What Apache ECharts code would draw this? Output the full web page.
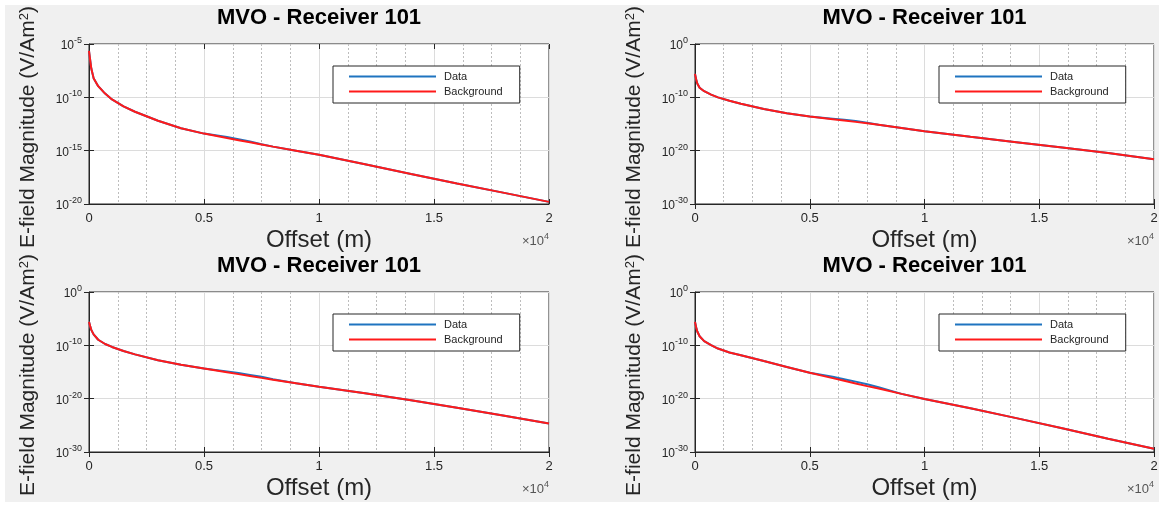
<!DOCTYPE html>
<html>
<head>
<meta charset="utf-8">
<script src="https://cdn.jsdelivr.net/npm/echarts@6/dist/echarts.min.js"></script>
<style>
  html, body { margin: 0; padding: 0; background: #ffffff; }
  #frame { position: absolute; left: 5px; top: 5px; width: 1154px; height: 497px; background: #f0f0f0; }
  #chart { position: absolute; left: 0; top: 0; width: 1159px; height: 506px; }
</style>
</head>
<body>
<div id="frame"></div>
<div id="chart"></div>
<script>
// Source-receiver offsets (m), shared by every panel
const offsets = [0, 50, 100, 200, 400, 700, 1000, 1500, 2000, 3000, 4000, 5000,
  6000, 6500, 7000, 7500, 8000, 9000, 10000, 12000, 14000, 16000, 18000, 20000];

// E-field magnitude (V/Am^2), panel 1 (upper left)
const bgUpperLeft = [2.24e-6, 3.16e-7, 5.01e-8, 6.31e-9, 1.12e-9, 2.24e-10, 6.31e-11, 1.41e-11,
  4.47e-12, 6.31e-13, 1.26e-13, 3.98e-14, 1.51e-14, 9.55e-15, 6.03e-15, 3.80e-15, 2.40e-15,
  1.0e-15, 4.17e-16, 5.37e-17, 6.61e-18, 8.51e-19, 1.17e-19, 1.58e-20];
const dataUpperLeft = [2.24e-6, 3.16e-7, 5.01e-8, 6.31e-9, 1.12e-9, 2.24e-10, 6.31e-11, 1.41e-11,
  4.47e-12, 6.31e-13, 1.26e-13, 3.98e-14, 1.91e-14, 1.20e-14, 7.24e-15, 3.98e-15, 2.40e-15,
  1.0e-15, 4.17e-16, 5.37e-17, 6.61e-18, 8.51e-19, 1.17e-19, 1.58e-20];

// Panel 2 (upper right)
const bgUpperRight = [2.51e-6, 2.51e-7, 3.98e-8, 6.31e-9, 1.41e-9, 3.16e-10, 1.0e-10, 2.24e-11,
  6.31e-12, 6.31e-13, 1.0e-13, 2.51e-14, 7.94e-15, 4.47e-15, 2.51e-15, 1.41e-15, 7.08e-16,
  1.78e-16, 4.47e-17, 3.98e-18, 3.98e-19, 3.98e-20, 3.55e-21, 2.51e-22];
const dataUpperRight = [2.51e-6, 2.51e-7, 3.98e-8, 6.31e-9, 1.41e-9, 3.16e-10, 1.0e-10, 2.24e-11,
  6.31e-12, 6.31e-13, 1.0e-13, 2.51e-14, 1.0e-14, 6.31e-15, 3.55e-15, 1.78e-15, 7.08e-16,
  1.78e-16, 4.47e-17, 3.98e-18, 3.98e-19, 3.98e-20, 3.55e-21, 2.51e-22];

// Panel 3 (lower left)
const bgLowerLeft = [2.51e-6, 3.98e-7, 7.94e-8, 1.12e-8, 1.12e-9, 1.78e-10, 5.01e-11, 8.91e-12,
  2.0e-12, 1.58e-13, 2.24e-14, 4.47e-15, 8.91e-16, 3.98e-16, 1.78e-16, 7.94e-17, 3.55e-17,
  7.94e-18, 1.78e-18, 1.0e-19, 5.01e-21, 2.0e-22, 7.08e-24, 2.24e-25];
const dataLowerLeft = [2.51e-6, 3.98e-7, 7.94e-8, 1.12e-8, 1.12e-9, 1.78e-10, 5.01e-11, 8.91e-12,
  2.0e-12, 1.58e-13, 2.24e-14, 4.47e-15, 1.26e-15, 6.31e-16, 2.82e-16, 1.26e-16, 4.47e-17,
  7.94e-18, 1.78e-18, 1.0e-19, 5.01e-21, 2.0e-22, 7.08e-24, 2.24e-25];

// Panel 4 (lower right)
const bgLowerRight = [2.51e-6, 2.51e-7, 3.98e-8, 5.01e-9, 6.31e-10, 1.12e-10, 2.51e-11, 4.47e-12,
  1.41e-12, 1.12e-13, 8.91e-15, 7.08e-16, 7.08e-17, 2.24e-17, 7.08e-18, 2.24e-18, 7.94e-19,
  7.94e-20, 8.91e-21, 1.58e-22, 2.24e-24, 2.82e-26, 3.16e-28, 3.98e-30];
const dataLowerRight = [2.51e-6, 2.51e-7, 3.98e-8, 5.01e-9, 6.31e-10, 1.12e-10, 2.51e-11, 4.47e-12,
  1.41e-12, 1.12e-13, 8.91e-15, 7.08e-16, 1.26e-16, 4.47e-17, 1.58e-17, 5.01e-18, 1.41e-18,
  7.94e-20, 8.91e-21, 1.58e-22, 2.24e-24, 2.82e-26, 3.16e-28, 3.98e-30];

// Axis ticks
const xTicks = [0, 5000, 10000, 15000, 20000];
const yTicksUpperLeft = [1e-20, 1e-15, 1e-10, 1e-5];
const yTicksOthers = [1e-30, 1e-20, 1e-10, 1];

const titleText = 'MVO - Receiver 101';
const xName = 'Offset (m)';
const legendNames = ['Data', 'Background'];

const FONT = '"Liberation Sans", Arial, Helvetica, sans-serif';
const INK = '#262626';
const BLUE = '#1f74c0';
const RED = '#ff1a1a';

const panels = [
  { bg: bgUpperLeft,  data: dataUpperLeft,  ticks: yTicksUpperLeft, box: { left: 89,  top: 44,  width: 460, height: 160 } },
  { bg: bgUpperRight, data: dataUpperRight, ticks: yTicksOthers,    box: { left: 695, top: 44,  width: 459, height: 160 } },
  { bg: bgLowerLeft,  data: dataLowerLeft,  ticks: yTicksOthers,    box: { left: 89,  top: 292, width: 460, height: 160 } },
  { bg: bgLowerRight, data: dataLowerRight, ticks: yTicksOthers,    box: { left: 695, top: 292, width: 459, height: 160 } }
];

const pair = arr => offsets.map((x, i) => [x, arr[i]]);

const powerLabel = v => {
  if (!(v > 0)) return '';
  const e = Math.round(Math.log10(v));
  return '{m|10}{e|' + e + '}';
};

const grid = [], xAxis = [], yAxis = [], series = [], legend = [], graphic = [];

panels.forEach((p, i) => {
  const b = p.box;
  const t = p.ticks;
  grid.push({
    left: b.left, top: b.top, width: b.width, height: b.height,
    containLabel: false, outerBoundsMode: 'none',
    show: true, backgroundColor: '#ffffff', borderColor: INK, borderWidth: 1
  });

  // bottom axis with labels and grid lines
  xAxis.push({
    type: 'value', gridIndex: i, min: xTicks[0], max: xTicks[xTicks.length - 1],
    interval: xTicks[1] - xTicks[0],
    name: xName, nameLocation: 'middle', nameGap: 24,
    nameTextStyle: { fontFamily: FONT, fontSize: 24, color: INK },
    axisLine: { show: true, lineStyle: { color: INK, width: 1 } },
    axisTick: { show: true, inside: true, length: 5, lineStyle: { color: INK } },
    axisLabel: { fontFamily: FONT, fontSize: 13, color: INK, margin: 8, formatter: v => String(v / 10000) },
    splitLine: { show: true, lineStyle: { color: '#dcdcdc', width: 1 } },
    minorTick: { show: false, splitNumber: 4 },
    minorSplitLine: { show: true, lineStyle: { color: '#bdbdbd', type: [2, 2], width: 1 } }
  });
  // top edge ticks
  xAxis.push({
    type: 'value', gridIndex: i, position: 'top', min: xTicks[0], max: xTicks[xTicks.length - 1],
    interval: xTicks[1] - xTicks[0],
    axisLine: { show: false }, axisLabel: { show: false }, splitLine: { show: false },
    axisTick: { show: true, inside: true, length: 5, lineStyle: { color: INK } }
  });

  const yCommon = { type: 'log', gridIndex: i, logBase: 10, min: t[0], max: t[t.length - 1] };
  yAxis.push(Object.assign({}, yCommon, {
    name: 'E-field Magnitude (V/Am{s|2})', nameLocation: 'middle', nameGap: 50, nameRotate: 90,
    nameMoveOverlap: false,
    nameTextStyle: {
      fontFamily: FONT, fontSize: 21, color: INK, padding: [0, 6, 0, 0],
      rich: { s: { fontFamily: FONT, fontSize: 13, color: INK, verticalAlign: 'top', lineHeight: 12 } }
    },
    axisLine: { show: true, lineStyle: { color: INK, width: 1 } },
    axisTick: { show: true, inside: true, length: 5, lineStyle: { color: INK }, customValues: t },
    axisLabel: {
      margin: 7, formatter: powerLabel, customValues: t,
      rich: {
        m: { fontFamily: FONT, fontSize: 12, color: INK, lineHeight: 16, verticalAlign: 'bottom' },
        e: { fontFamily: FONT, fontSize: 9, color: INK, lineHeight: 10, verticalAlign: 'top' }
      }
    },
    splitLine: { show: true, lineStyle: { color: '#dcdcdc', width: 1 } }
  }));
  yAxis.push(Object.assign({}, yCommon, {
    position: 'right',
    axisLine: { show: false }, axisLabel: { show: false }, splitLine: { show: false },
    axisTick: { show: true, inside: true, length: 5, lineStyle: { color: INK }, customValues: t }
  }));

  series.push({
    name: legendNames[0], type: 'line', xAxisIndex: 2 * i, yAxisIndex: 2 * i,
    data: pair(p.data), symbol: 'none', smooth: false,
    lineStyle: { color: BLUE, width: 2 }, itemStyle: { color: BLUE }, z: 3
  });
  series.push({
    name: legendNames[1], type: 'line', xAxisIndex: 2 * i, yAxisIndex: 2 * i,
    data: pair(p.bg), symbol: 'none', smooth: false,
    lineStyle: { color: RED, width: 2 }, itemStyle: { color: RED }, z: 4
  });

  legend.push({
    data: legendNames, orient: 'vertical', left: b.left + 244, top: b.top + 22,
    icon: 'rect', itemWidth: 87, itemHeight: 2, itemGap: 4, selectedMode: false,
    padding: [5, 17, 6, 16],
    backgroundColor: '#ffffff', borderColor: INK, borderWidth: 1, borderRadius: 0,
    textStyle: { fontFamily: FONT, fontSize: 11, color: INK, padding: [0, 0, 0, 3] }
  });

  // panel title
  graphic.push({
    type: 'text', x: b.left + b.width / 2, y: b.top - 26, silent: true,
    style: {
      text: titleText, fontFamily: FONT, fontSize: 22, fontWeight: 'bold', fill: '#000000',
      align: 'center', verticalAlign: 'middle'
    }
  });
  // axis multiplier
  graphic.push({
    type: 'text', x: b.left + b.width, y: b.top + b.height + 36, silent: true,
    style: {
      text: '{a|×10}{b|4}', align: 'right', verticalAlign: 'middle',
      rich: {
        a: { fontFamily: FONT, fontSize: 13, fill: '#555555', lineHeight: 16, verticalAlign: 'bottom' },
        b: { fontFamily: FONT, fontSize: 9, fill: '#555555', lineHeight: 10, verticalAlign: 'top' }
      }
    }
  });
});

const chart = echarts.init(document.getElementById('chart'), null, { renderer: 'canvas' });
chart.setOption({
  backgroundColor: 'transparent',
  animation: false,
  grid, xAxis, yAxis, series, legend, graphic
});
</script>
</body>
</html>
